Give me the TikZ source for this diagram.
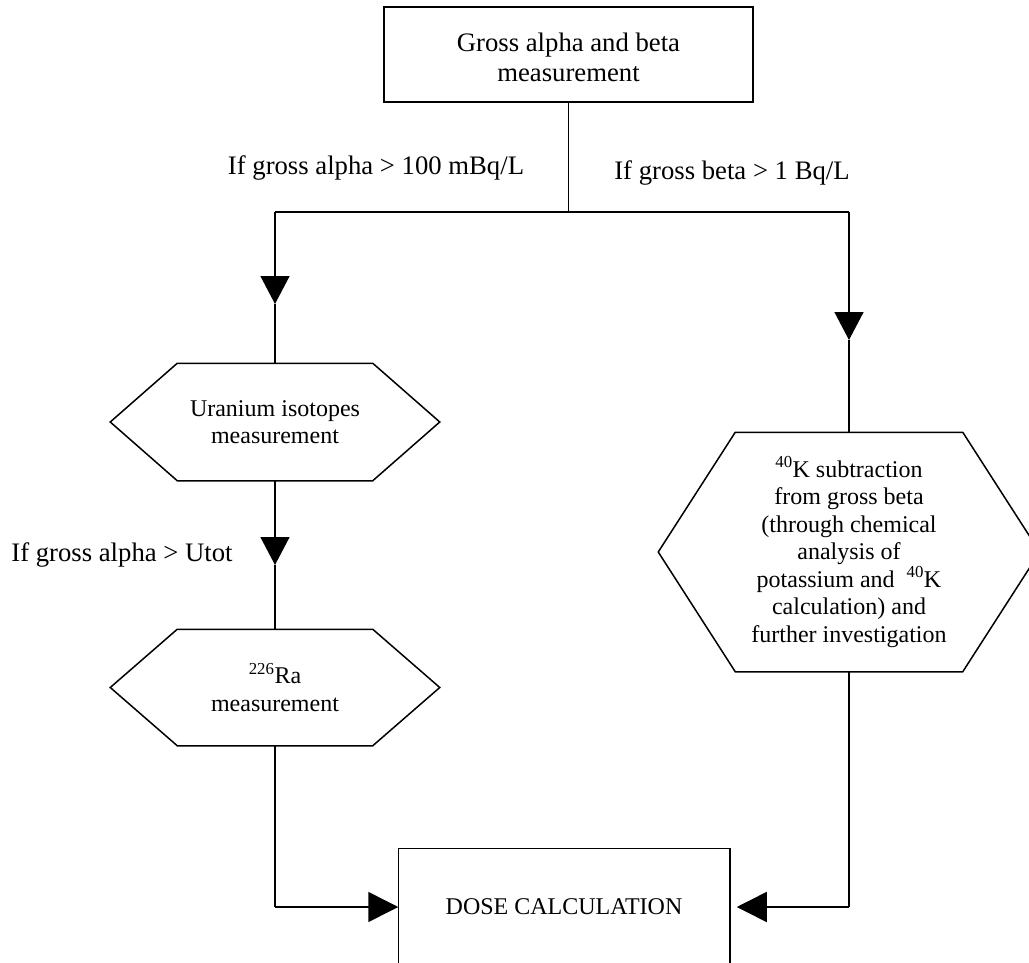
\documentclass[tikz,border=0pt]{standalone}
\usepackage{fontspec}
\setmainfont{Liberation Serif}
\usetikzlibrary{arrows.meta}
\begin{document}
\begin{tikzpicture}[x=1pt,y=-1pt,
  line width=1.5pt,
  bigtext/.style={font=\fontsize{26.7}{30}\selectfont, align=center},
  smalltext/.style={font=\fontsize{24}{27.5}\selectfont, align=center},
  boxnode/.style={draw, rectangle, inner sep=0pt},
  hexnode/.style={rectangle, inner sep=0pt},
  arr/.style={-{Triangle[length=28pt,width=29pt]}},
  arrh/.style={-{Triangle[length=30pt,width=30pt]}},
  lbl/.style={font=\fontsize{26.7}{30}\selectfont, inner sep=0pt}
]
\clip (0,0) rectangle (1029,963);
\fill[white] (0,0) rectangle (1029,963);

% top box
\node[boxnode, bigtext, minimum width=369pt, minimum height=95pt] (top) at (568.5,54.5)
  {\\[-6pt]Gross alpha and beta\\measurement};

% uranium hexagon
\node[hexnode, smalltext, minimum width=328pt, minimum height=116pt] (u) at (275,422)
  {Uranium isotopes\\measurement};
\draw (u.west) -- ([xshift=67pt]u.north west) -- ([xshift=-67pt]u.north east) -- (u.east)
  -- ([xshift=-67pt]u.south east) -- ([xshift=67pt]u.south west) -- cycle;

% radium hexagon
\node[hexnode, smalltext, minimum width=328pt, minimum height=115pt] (ra) at (275,687.5)
  {\textsuperscript{226}Ra\\measurement};
\draw (ra.west) -- ([xshift=67pt]ra.north west) -- ([xshift=-67pt]ra.north east) -- (ra.east)
  -- ([xshift=-67pt]ra.south east) -- ([xshift=67pt]ra.south west) -- cycle;

% potassium hexagon
\node[hexnode, smalltext, minimum width=380pt, minimum height=238pt] (k) at (849,552)
  {\textsuperscript{40}K subtraction\\from gross beta\\(through chemical\\analysis of\\potassium and \ \textsuperscript{40}K\\calculation) and\\further investigation};
\draw (k.west) -- ([xshift=77pt]k.north west) -- ([xshift=-77pt]k.north east) -- (k.east)
  -- ([xshift=-77pt]k.south east) -- ([xshift=77pt]k.south west) -- cycle;

% dose box (open at bottom, runs off the page)
\node[hexnode, smalltext, minimum width=330pt, minimum height=116pt] (d) at (564,907)
  {DOSE CALCULATION};
\draw ([yshift=-40pt]d.south west) -- (d.north west) -- (d.north east) -- ([yshift=-40pt]d.south east);

% labels
\node[lbl] (la) at (376,168) {If gross alpha > 100 mBq/L};
\node[lbl] (lb) at (732,173) {If gross beta > 1 Bq/L};
\node[lbl] (lu) at (122,555) {If gross alpha > Utot};

% connectors
\coordinate (j) at (568.5,212);
\coordinate (jl) at (275,212);
\coordinate (jr) at (849,212);
\coordinate (al) at (275,304);
\coordinate (ar) at (849,340);
\coordinate (au) at (275,565);
\coordinate (bl) at (275,907);
\coordinate (br) at (849,907);

\draw (top.south) -- (j);
\draw (jl) -- (jr);
\draw[arr] (jl) -- (al);
\draw (al) -- (u.north);
\draw[arr] (jr) -- (ar);
\draw (ar) -- (k.north);
\draw[arr] (u.south) -- (au);
\draw (au) -- (ra.north);
\draw (ra.south) -- (bl);
\draw[arrh] (bl) -- (d.west);
\draw (k.south) -- (br);
\draw[arrh] (br) -- ([xshift=7pt]d.east);
\end{tikzpicture}
\end{document}
